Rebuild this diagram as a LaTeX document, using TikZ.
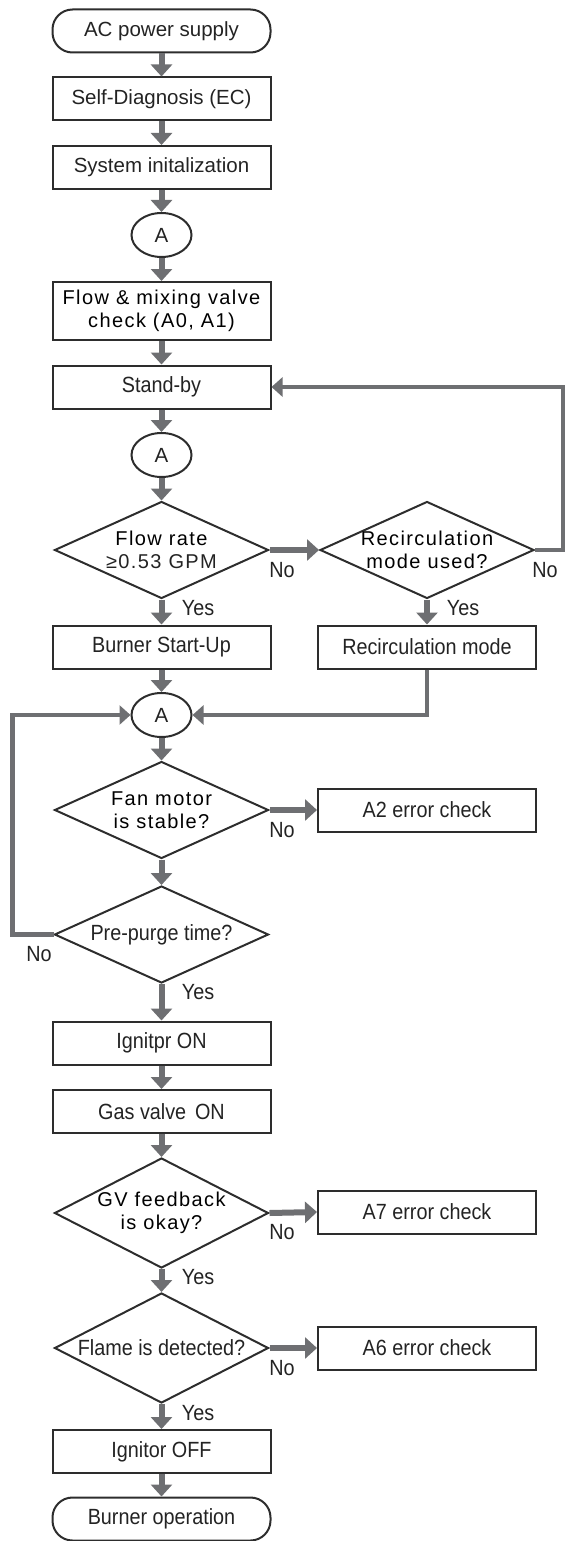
\documentclass[tikz,border=0pt]{standalone}
\usepackage{fontspec}
\setmainfont{Liberation Sans}
\newfontfamily\condfont{Liberation Sans}[FakeStretch=0.9]
\newfontfamily\widefont{Liberation Sans}[LetterSpace=7]
\usetikzlibrary{arrows.meta,shapes.geometric}

\definecolor{arrowgray}{RGB}{110,111,114}
\definecolor{edgegray}{RGB}{45,45,45}
\definecolor{textgray}{RGB}{35,35,35}

\begin{document}
\begin{tikzpicture}[x=1pt,y=-1pt,
  plain/.style={font=\fontsize{20.5}{22}\selectfont,text=textgray},
  cond/.style={font=\condfont\fontsize{22}{22}\selectfont,text=textgray},
  wide/.style={font=\widefont\fontsize{20}{22.5}\selectfont,text=black},
  box/.style={draw=edgegray,line width=2pt,minimum width=218pt,minimum height=43pt,
    inner sep=0pt,align=center},
  term/.style={box,rounded corners=20pt},
  conn/.style={ellipse,draw=edgegray,line width=2pt,minimum width=60pt,
    minimum height=44pt,inner sep=0pt,font=\fontsize{20.5}{22}\selectfont,text=textgray},
  decision/.style={diamond,draw=edgegray,line width=2pt,minimum width=214pt,
    minimum height=97pt,inner xsep=-30pt,inner ysep=-10pt,aspect=2.2,align=center},
  flow/.style={draw=arrowgray,line width=6pt,-{Triangle[width=21pt,length=12pt]}},
  back/.style={draw=arrowgray,line width=4.5pt,-{Triangle[width=19pt,length=11pt]}},
  lbl/.style={font=\condfont\fontsize{22}{22}\selectfont,text=textgray}
]
\useasboundingbox (0,0) rectangle (566,1541);

% main column
\node[term,plain]  (ac)      at (161.5,31)    {AC power supply};
\node[box,plain]   (self)    at (161.5,99)    {Self-Diagnosis (EC)};
\node[box,plain]   (sysinit) at (161.5,167.5) {System initalization};
\node[conn]        (a1)      at (161.5,235)   {A};
\node[box,wide,minimum height=58pt] (valve) at (161.5,311) {Flow \& mixing valve\\check (A0, A1)};
\node[box,cond]    (standby) at (161.5,387)   {Stand-by};
\node[conn]        (a2)      at (161.5,455)   {A};
\node[decision,wide] (rate)  at (161.5,550)   {Flow rate\\{\color{textgray}≥0.53 GPM}};
\node[box,cond]    (start)   at (161.5,647)   {Burner Start-Up};
\node[conn]        (a3)      at (161.5,715)   {A};
\node[decision,wide] (fan)   at (161.5,810)   {Fan motor\\is stable?};
\node[decision,cond] (purge) at (161.5,934.5) {Pre-purge time?};
\node[box,cond]    (ign)     at (161.5,1043)  {Ignitpr ON};
\node[box,cond]    (gas)     at (161.5,1111.5){Gas valve\hspace{0.4em}ON};
\node[decision,wide,minimum height=110pt] (gv)    at (161.5,1213) {GV feedback\\is okay?};
\node[decision,cond,minimum height=110pt] (flame) at (161.5,1348) {Flame is detected?};
\node[box,cond]    (off)     at (161.5,1451.5){Ignitor OFF};
\node[term,cond]   (op)      at (161.5,1519)  {Burner operation};

% right column
\node[decision,wide] (recirc) at (427,550)  {Recirculation\\mode used?};
\node[box,cond]    (recmode) at (427,647)  {Recirculation mode};
\node[box,cond]    (errA2)   at (427,810)  {A2 error check};
\node[box,cond]    (errA7)   at (427,1212) {A7 error check};
\node[box,cond]    (errA6)   at (427,1348) {A6 error check};

% return paths
\coordinate (rightrail) at (563,0);
\coordinate (leftrail)  at (12.5,0);

% straight flow
\draw[flow] (ac) -- (self);
\draw[flow] (self) -- (sysinit);
\draw[flow] (sysinit) -- (a1);
\draw[flow] (a1) -- (valve);
\draw[flow] (valve) -- (standby);
\draw[flow] (standby) -- (a2);
\draw[flow] (a2) -- (rate);
\draw[flow] (rate) -- (start);
\draw[flow] (start) -- (a3);
\draw[flow] (a3) -- (fan);
\draw[flow] (fan) -- (purge);
\draw[flow] (purge) -- (ign);
\draw[flow] (ign) -- (gas);
\draw[flow] (gas) -- (gv);
\draw[flow] (gv) -- (flame);
\draw[flow] (flame) -- (off);
\draw[flow] (off) -- (op);

% branches
\draw[flow] (rate.east) -- (recirc.west);
\draw[flow] (recirc) -- (recmode);
\draw[flow] (fan.east) -- (errA2.west);
\draw[flow] (gv.east) -- (errA7.west);
\draw[flow] (flame.east) -- (errA6.west);

% loops
\draw[back] (recirc.east) -- (recirc.east -| rightrail) |- (standby.east);
\draw[back] (recmode.south) |- (a3.east);
\draw[back] (purge.west) -- (purge.west -| leftrail) |- (a3.west);

% branch labels
\node[lbl] (n1) at (282,570)  {No};
\node[lbl] (y1) at (198,608)  {Yes};
\node[lbl] (n2) at (545,570)  {No};
\node[lbl] (y2) at (463,608)  {Yes};
\node[lbl] (n3) at (282,830)  {No};
\node[lbl] (n4) at (39,954)   {No};
\node[lbl] (y4) at (198,992)  {Yes};
\node[lbl] (n5) at (282,1232) {No};
\node[lbl] (y5) at (198,1277) {Yes};
\node[lbl] (n6) at (282,1368) {No};
\node[lbl] (y6) at (198,1413) {Yes};
\end{tikzpicture}
\end{document}
